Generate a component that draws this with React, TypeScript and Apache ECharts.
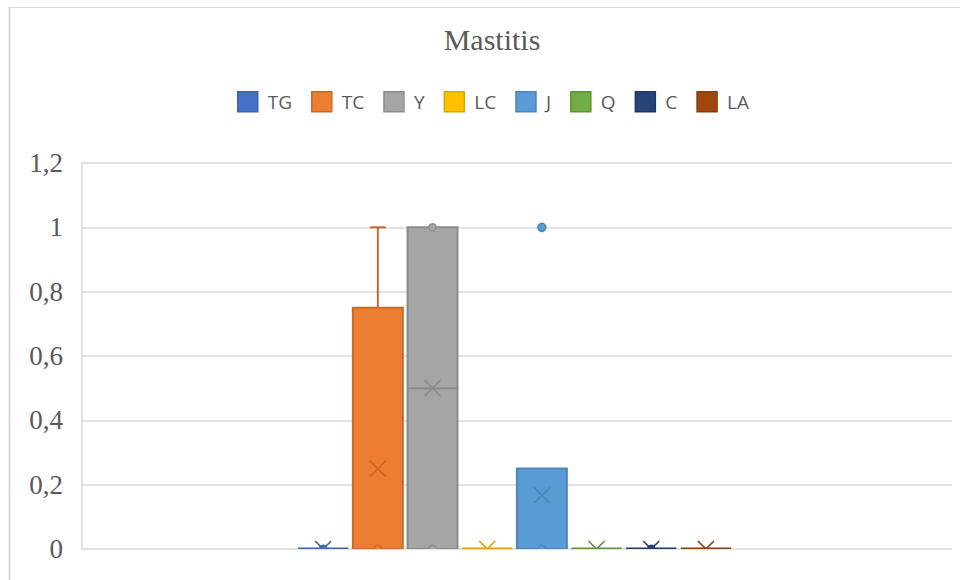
import React, { useEffect, useRef } from 'react';
import * as echarts from 'echarts';

const titleText = 'Mastitis';
const seriesNames = ['TG', 'TC', 'Y', 'LC', 'J', 'Q', 'C', 'LA'];
const fillColors = ['#4472C4', '#ED7D31', '#A5A5A5', '#FFC000', '#5B9BD5', '#70AD47', '#264478', '#9E480E'];
const lineColors = ['#3A64AD', '#C8692B', '#8C8C8C', '#D9A300', '#4E86BA', '#5F9339', '#203A66', '#86400D'];

// box-and-whisker statistics per series
const minValues = [0, 0, 0, 0, 0, 0, 0, 0];
const q1Values = [0, 0, 0, 0, 0, 0, 0, 0];
const medianValues = [0, 0, 0.5, 0, 0, 0, 0, 0];
const q3Values = [0, 0.75, 1, 0, 0.25, 0, 0, 0];
const maxValues = [0, 1, 1, 0, 0.25, 0, 0, 0];
const meanValues = [0, 0.25, 0.5, 0, 0.1667, 0, 0, 0];
const innerPoints: number[][] = [[0], [0], [0, 1], [], [0], [], [0], []];
const outlierPoints: number[][] = [[], [], [], [], [1], [], [], []];

const yTickLabels = ['0', '0,2', '0,4', '0,6', '0,8', '1', '1,2'];

const BOX_W = 0.914; // in x-axis units
const X_MIN = -7.91;
const X_MAX = 8;

export default function App() {
  const ref = useRef<HTMLDivElement>(null);

  useEffect(() => {
    if (!ref.current) return;
    const chart = echarts.init(ref.current, null, { renderer: 'svg' });

    const series = seriesNames.map((name, i) => ({
      type: 'custom',
      name,
      clip: true,
      itemStyle: { color: fillColors[i], borderColor: lineColors[i], borderWidth: 2 },
      data: [[i - 3.5, minValues[i], q1Values[i], medianValues[i], q3Values[i], maxValues[i], meanValues[i]]],
      encode: { x: 0, y: [1, 2, 3, 4, 5, 6] },
      renderItem: (params: any, api: any) => {
        const k = params.seriesIndex;
        const pos = api.value(0);
        const vMin = api.value(1);
        const vQ1 = api.value(2);
        const vMed = api.value(3);
        const vQ3 = api.value(4);
        const vMax = api.value(5);
        const vMean = api.value(6);
        const cx = api.coord([pos, 0])[0];
        const yOf = (v: number) => api.coord([pos, v])[1];
        const half = api.size([BOX_W, 0])[0] / 2;
        const fill = fillColors[k];
        const stroke = lineColors[k];
        const children: any[] = [];
        const capHalf = 8;
        if (vMax > vQ3) {
          children.push({ type: 'line', shape: { x1: cx, y1: yOf(vQ3), x2: cx, y2: yOf(vMax) }, style: { stroke, lineWidth: 2 } });
          children.push({ type: 'line', shape: { x1: cx - capHalf, y1: yOf(vMax), x2: cx + capHalf, y2: yOf(vMax) }, style: { stroke, lineWidth: 2 } });
        }
        if (vMin < vQ1) {
          children.push({ type: 'line', shape: { x1: cx, y1: yOf(vQ1), x2: cx, y2: yOf(vMin) }, style: { stroke, lineWidth: 2 } });
          children.push({ type: 'line', shape: { x1: cx - capHalf, y1: yOf(vMin), x2: cx + capHalf, y2: yOf(vMin) }, style: { stroke, lineWidth: 2 } });
        }
        if (vQ3 > vQ1) {
          children.push({
            type: 'rect',
            shape: { x: cx - half, y: yOf(vQ3), width: half * 2, height: yOf(vQ1) - yOf(vQ3) },
            style: { fill, stroke, lineWidth: 2 },
          });
        } else {
          children.push({ type: 'line', shape: { x1: cx - half, y1: yOf(vQ1), x2: cx + half, y2: yOf(vQ1) }, style: { stroke, lineWidth: 3 } });
        }
        children.push({ type: 'line', shape: { x1: cx - half, y1: yOf(vMed), x2: cx + half, y2: yOf(vMed) }, style: { stroke, lineWidth: 2 } });
        const my = yOf(vMean);
        const xs = 8;
        children.push({ type: 'line', shape: { x1: cx - xs, y1: my - xs, x2: cx + xs, y2: my + xs }, style: { stroke, lineWidth: 1.6 } });
        children.push({ type: 'line', shape: { x1: cx - xs, y1: my + xs, x2: cx + xs, y2: my - xs }, style: { stroke, lineWidth: 1.6 } });
        innerPoints[k].forEach((p) => {
          children.push({ type: 'circle', shape: { cx, cy: yOf(p), r: 3.6 }, style: { fill, stroke, lineWidth: 1.5 } });
        });
        outlierPoints[k].forEach((p) => {
          children.push({ type: 'circle', shape: { cx, cy: yOf(p), r: 4 }, style: { fill, stroke, lineWidth: 1.5 } });
        });
        return { type: 'group', children };
      },
    }));

    chart.setOption({
      animation: false,
      backgroundColor: '#ffffff',
      title: {
        text: titleText,
        left: 487,
        textAlign: 'center',
        top: 19,
        textStyle: { fontFamily: 'Liberation Serif', fontSize: 30, fontWeight: 'normal', color: '#595959' },
      },
      legend: {
        left: 237,
        top: 91,
        padding: 0,
        icon: 'rect',
        itemWidth: 20,
        itemHeight: 20,
        itemGap: 19,
        data: seriesNames.map((name, i) => ({
          name,
          itemStyle: { color: fillColors[i], borderColor: lineColors[i], borderWidth: 1.5 },
        })),
        textStyle: { fontFamily: 'Open Sans', fontSize: 19, color: '#595959', padding: [0, 0, 0, 5] },
      },
      grid: { left: 82, right: 8, top: 163, bottom: 31, containLabel: false },
      xAxis: { type: 'value', min: X_MIN, max: X_MAX, show: false },
      yAxis: {
        type: 'value',
        min: 0,
        max: 1.2,
        interval: 0.2,
        axisLine: { show: true, onZero: false, lineStyle: { color: '#d9d9d9', width: 1.5 } },
        axisTick: { show: false },
        splitLine: { lineStyle: { color: '#d9d9d9', width: 1.5 } },
        axisLabel: {
          formatter: (v: number) => yTickLabels[Math.round(v / 0.2)],
          color: '#595959',
          fontFamily: 'Liberation Serif',
          fontSize: 27,
          margin: 19,
        },
      },
      graphic: [
        { type: 'line', shape: { x1: 9.5, y1: 7, x2: 9.5, y2: 580 }, style: { stroke: '#d9d9d9', lineWidth: 2 } },
        { type: 'line', shape: { x1: 9, y1: 7.5, x2: 960, y2: 7.5 }, style: { stroke: '#d9d9d9', lineWidth: 1 } },
      ],
      series,
    });

    return () => chart.dispose();
  }, []);

  return (
    <div style={{ position: 'fixed', left: 0, top: 0, width: 960, height: 580 }}>
      <div ref={ref} style={{ width: 960, height: 580 }} />
    </div>
  );
}
